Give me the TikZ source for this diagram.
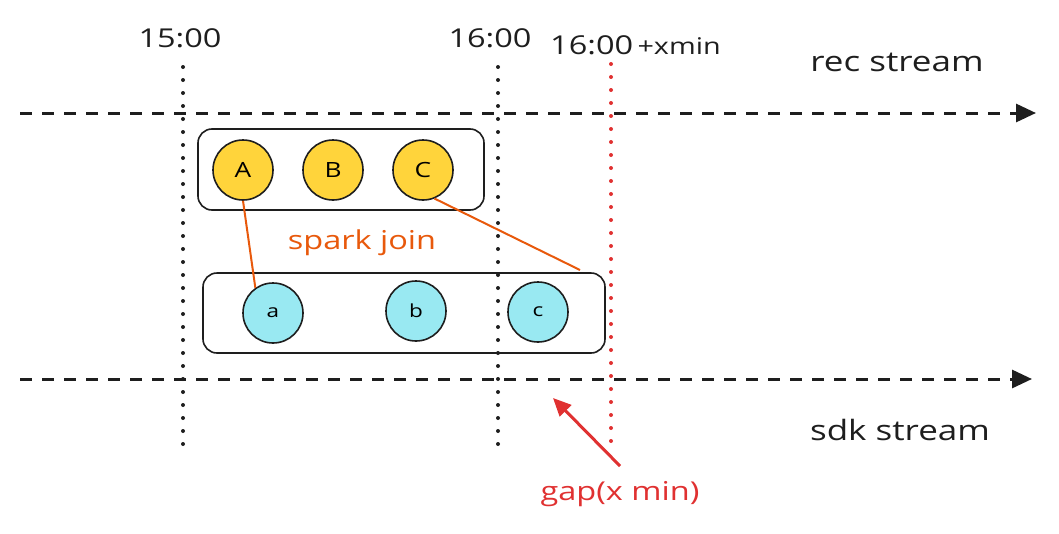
\documentclass[tikz,border=0pt]{standalone}
\usepackage{fontspec}
\setmainfont{Open Sans}
\newfontfamily\hand[FakeStretch=1.25]{Open Sans}
\usetikzlibrary{arrows.meta}
\definecolor{ink}{HTML}{1E1E1E}
\definecolor{yel}{HTML}{FFD43B}
\definecolor{cya}{HTML}{99E9F2}
\definecolor{org}{HTML}{E8590C}
\definecolor{rd}{HTML}{E03131}
\tikzset{
  lbl/.style={font=\hand\fontsize{26}{28}\selectfont, text=ink, inner sep=0pt},
  dotline/.style={line width=4pt, line cap=round, dash pattern=on 0pt off 13pt},
  stream/.style={line width=3pt, draw=ink, dash pattern=on 12pt off 10pt, -{Triangle[length=20pt,width=18pt]}},
  grpbox/.style={draw=ink, line width=1.6pt, rounded corners=14pt, inner sep=0pt},
  bigc/.style={circle, draw=ink, line width=1.6pt, fill=yel, minimum size=60pt, inner sep=0pt, font=\hand\fontsize{21}{23}\selectfont},
  smallc/.style={circle, draw=ink, line width=1.6pt, fill=cya, minimum size=60pt, inner sep=0pt, font=\hand\fontsize{18}{20}\selectfont},
  joinline/.style={draw=org, line width=2pt}
}
\begin{document}
\begin{tikzpicture}[x=1pt,y=-1pt]
\useasboundingbox (0,0) rectangle (1059,533);
% labels
\node[lbl] (t15) at (180,38) {15:00};
\node[lbl] (t16) at (490,38) {16:00};
\node[lbl, anchor=west] (t16x) at (550,45) {16:00\,{\fontsize{23}{25}\selectfont+xmin}};
\node[lbl, font=\hand\fontsize{28}{30}\selectfont] (rec) at (897,62) {rec stream};
\node[lbl, font=\hand\fontsize{28}{30}\selectfont] (sdk) at (900,430) {sdk stream};
\node[lbl, text=org] (spark) at (362,243) {spark join};
\node[lbl, text=rd] (gap) at (620,494) {gap(x min)};
% vertical time lines
\coordinate (v1t) at (183,67); \coordinate (v1b) at (183,452);
\coordinate (v2t) at (498,67); \coordinate (v2b) at (498,452);
\coordinate (v3t) at (611,64); \coordinate (v3b) at (611,452);
\draw[dotline, draw=ink] (v1t) -- (v1b);
\draw[dotline, draw=ink] (v2t) -- (v2b);
\draw[dotline, draw=rd] (v3t) -- (v3b);
% streams
\coordinate (s1a) at (20,113); \coordinate (s1b) at (1036,113);
\coordinate (s2a) at (20,379); \coordinate (s2b) at (1032,379);
\draw[stream] (s1a) -- (s1b);
\draw[stream] (s2a) -- (s2b);
% boxes
\node[grpbox, minimum width=286pt, minimum height=81pt] (top) at (341,169.5) {};
\node[grpbox, minimum width=402pt, minimum height=80pt] (bot) at (404,313) {};
% circles
\node[bigc] (A) at (243,170) {A};
\node[bigc] (B) at (333,170) {B};
\node[bigc] (C) at (423,170) {C};
\node[smallc] (a) at (273,313) {a};
\node[smallc] (b) at (416,311) {b};
\node[smallc] (c) at (538,312) {c};
% joins
\coordinate (cend) at (580,270);
\draw[joinline] (A.south) -- (a.125);
\draw[joinline] (C.-68) -- (cend);
% gap arrow
\coordinate (gs) at (620,466);
\coordinate (ge) at (553,398);
\draw[draw=rd, line width=3pt, -{Triangle[length=18pt,width=16pt]}] (gs) -- (ge);
\end{tikzpicture}
\end{document}
